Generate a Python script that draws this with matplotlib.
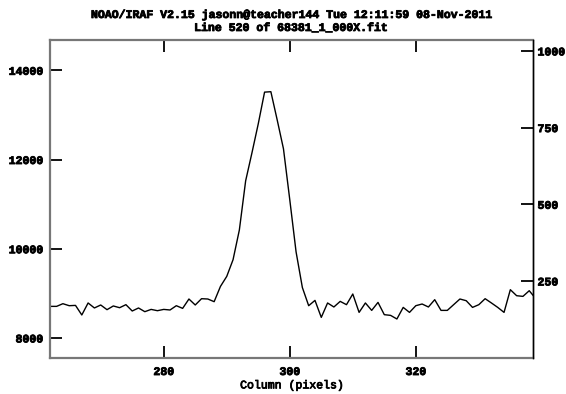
import matplotlib.pyplot as plt
import matplotlib.patheffects as pe

# one image row (line 520), columns 262..339
columns = list(range(262, 340))
counts = [8708, 8708, 8768, 8723, 8730, 8515, 8784, 8672, 8739, 8634,
          8717, 8678, 8746, 8604, 8672, 8589, 8640, 8611, 8640, 8627,
          8723, 8663, 8873, 8739, 8880, 8873, 8813, 9155, 9380, 9754,
          10420, 11523, 12150, 12800, 13510, 13520, 12890, 12240, 11100, 9930,
          9130, 8723, 8842, 8461, 8784, 8694, 8820, 8746, 8985, 8573,
          8784, 8618, 8797, 8522, 8506, 8425, 8685, 8573, 8723, 8761,
          8694, 8858, 8618, 8618, 8746, 8873, 8835, 8685, 8746, 8880,
          8784, 8685, 8573, 9082, 8947, 8932, 9059, 8887]

xticks = [280, 300, 320]
yticks = [8000, 10000, 12000, 14000]
right_ticks = [250, 500, 750, 1000]

title1 = 'NOAO/IRAF V2.15 jasonn@teacher144 Tue 12:11:59 08-Nov-2011'
title2 = 'Line 520 of 68381_1_000X.fit'

plt.rcParams['font.family'] = 'Liberation Mono'
plt.rcParams['font.weight'] = 'bold'
plt.rcParams['font.size'] = 8.3

# thicken the glyphs a little, IRAF plot fonts are heavy
heavy = [pe.withStroke(linewidth=0.6, foreground='black')]

fig = plt.figure(figsize=(5.66, 3.94), dpi=100)
ax = fig.add_axes([0.0883, 0.0922, 0.8540, 0.8063])

ax.plot(columns, counts, color='black', lw=1.0)
ax.set_xlim(261.95, 338.65)
ax.set_ylim(7558, 14679)
ax.set_xticks(xticks)
ax.set_yticks(yticks)
ax.tick_params(axis='both', direction='in', length=8.5, width=1.3, color='black')
ax.tick_params(axis='x', top=True, pad=6)
ax.tick_params(axis='y', right=False, pad=5)
ax.set_xlabel('Column (pixels)', labelpad=1, path_effects=heavy)

for side in ['left', 'top', 'bottom']:
    ax.spines[side].set_color('#777777')
    ax.spines[side].set_linewidth(1.6)
ax.spines['right'].set_color('black')
ax.spines['right'].set_linewidth(1.0)

ax2 = ax.twinx()
ax2.set_ylim(0, 1035.5)
ax2.set_yticks(right_ticks)
ax2.tick_params(axis='y', direction='in', length=8.5, width=1.3, pad=3)
for side in ['left', 'top', 'bottom']:
    ax2.spines[side].set_visible(False)
ax2.spines['right'].set_linewidth(1.0)

for lab in ax.get_xticklabels() + ax.get_yticklabels() + ax2.get_yticklabels():
    lab.set_path_effects(heavy)

fig.text(0.513, 0.962, title1, ha='center', va='center', path_effects=heavy)
fig.text(0.513, 0.929, title2, ha='center', va='center', path_effects=heavy)

plt.savefig('out.png', dpi=100)
